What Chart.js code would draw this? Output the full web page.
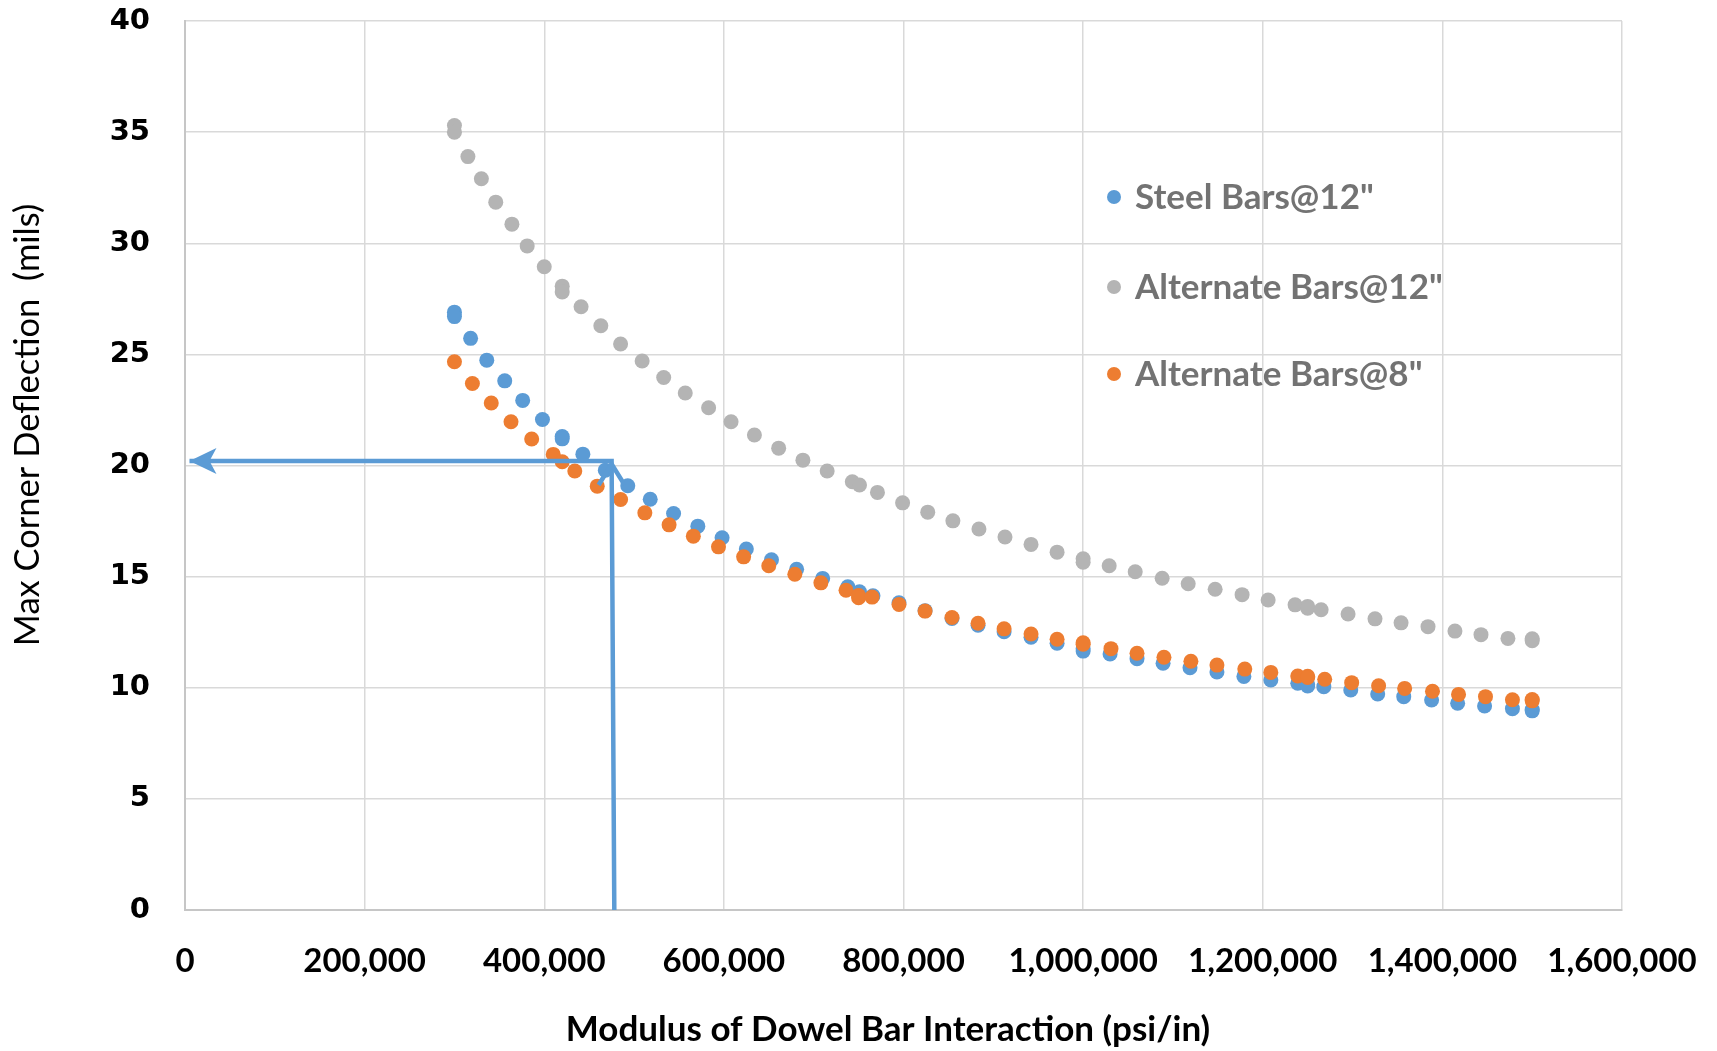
<!DOCTYPE html>
<html lang="en">
<head>
<meta charset="UTF-8">
<title>Max Corner Deflection vs Modulus of Dowel Bar Interaction</title>
<script src="https://cdn.jsdelivr.net/npm/chart.js"></script>
<style>
  html, body { margin: 0; padding: 0; background: #fff; }
</style>
</head>
<body>
<canvas id="deflection-chart" width="1717" height="1051"></canvas>
<script>
// values
const steelLabel = 'Steel Bars@12"';
const steelX = [300000, 300000, 318000, 336000, 356000, 376000, 398000, 420000, 420000, 443000, 468000, 493000, 518000, 544000, 571000, 598000, 625000, 653000, 681000, 710000, 738000, 751000, 766000, 795000, 824000, 854000, 883000, 912000, 942000, 971000, 1000000, 1000000, 1030000, 1060000, 1089000, 1119000, 1149000, 1179000, 1209000, 1239000, 1250000, 1250000, 1268000, 1298000, 1328000, 1357000, 1388000, 1417000, 1447000, 1478000, 1500000, 1500000];
const steelY = [26.9, 26.7, 25.72, 24.74, 23.81, 22.93, 22.07, 21.3, 21.2, 20.51, 19.79, 19.09, 18.48, 17.84, 17.27, 16.75, 16.24, 15.76, 15.33, 14.92, 14.54, 14.32, 14.14, 13.82, 13.47, 13.12, 12.81, 12.52, 12.27, 12.0, 11.75, 11.65, 11.52, 11.31, 11.1, 10.9, 10.71, 10.51, 10.35, 10.2, 10.15, 10.08, 10.05, 9.9, 9.72, 9.6, 9.45, 9.3, 9.18, 9.06, 9.02, 8.96];

const alt12Label = 'Alternate Bars@12"';
const alt12X = [300000, 300000, 315000, 330000, 346000, 364000, 381000, 400000, 420000, 420000, 441000, 463000, 485000, 509000, 533000, 557000, 583000, 608000, 634000, 661000, 688000, 715000, 743000, 751000, 771000, 799000, 827000, 855000, 884000, 913000, 942000, 971000, 1000000, 1000000, 1029000, 1058000, 1088000, 1117000, 1147000, 1177000, 1206000, 1236000, 1250000, 1250000, 1265000, 1295000, 1325000, 1354000, 1384000, 1414000, 1443000, 1473000, 1500000, 1500000];
const alt12Y = [35.3, 35.0, 33.9, 32.9, 31.85, 30.86, 29.88, 28.94, 28.07, 27.81, 27.14, 26.29, 25.47, 24.7, 23.96, 23.26, 22.6, 21.97, 21.37, 20.78, 20.24, 19.75, 19.27, 19.12, 18.79, 18.32, 17.9, 17.51, 17.14, 16.78, 16.45, 16.1, 15.8, 15.65, 15.49, 15.22, 14.93, 14.68, 14.43, 14.19, 13.95, 13.73, 13.66, 13.58, 13.51, 13.32, 13.1, 12.92, 12.75, 12.55, 12.39, 12.22, 12.2, 12.12];

const alt8Label = 'Alternate Bars@8"';
const alt8X = [300000, 320000, 341000, 363000, 386000, 410000, 420000, 434000, 459000, 485000, 512000, 539000, 566000, 594000, 622000, 650000, 679000, 708000, 736000, 750000, 750000, 765000, 795000, 824000, 854000, 883000, 912000, 942000, 971000, 1000000, 1000000, 1031000, 1060000, 1090000, 1120000, 1149000, 1180000, 1209000, 1239000, 1250000, 1250000, 1269000, 1299000, 1329000, 1358000, 1389000, 1418000, 1448000, 1478000, 1500000, 1500000];
const alt8Y = [24.67, 23.69, 22.81, 21.97, 21.19, 20.5, 20.17, 19.75, 19.07, 18.47, 17.87, 17.33, 16.82, 16.34, 15.89, 15.49, 15.11, 14.72, 14.39, 14.15, 14.05, 14.08, 13.75, 13.45, 13.16, 12.9, 12.65, 12.42, 12.18, 12.02, 11.96, 11.76, 11.55, 11.37, 11.19, 11.02, 10.84, 10.69, 10.53, 10.52, 10.46, 10.38, 10.23, 10.09, 9.97, 9.84, 9.7, 9.6, 9.46, 9.47, 9.41];

// reading guide: left arrow tip -> corner -> foot on the x axis
const guideX = [5000, 475000, 478000];
const guideY = [20.2, 20.2, 0];

const xTitle = 'Modulus of Dowel Bar Interaction (psi/in)';
const yTitle = 'Max Corner Deflection  (mils)';

const blue = '#5b9bd5';
const grey = '#b4b4b4';
const orange = '#ed7d31';

function toPoints(xs, ys) {
    return xs.map((x, i) => ({ x: x, y: ys[i] }));
}

// arrowheads, axis titles and legend drawn by hand so they sit where the original has them
const decorations = {
    id: 'decorations',
    afterDatasetsDraw(chart) {
        const ctx = chart.ctx;
        const xs = chart.scales.x;
        const ys = chart.scales.y;

        const tipX = xs.getPixelForValue(guideX[0]);
        const tipY = ys.getPixelForValue(guideY[0]);
        ctx.save();
        ctx.fillStyle = blue;
        ctx.beginPath();
        ctx.moveTo(tipX, tipY);
        ctx.lineTo(tipX + 27, tipY - 13);
        ctx.lineTo(tipX + 20, tipY);
        ctx.lineTo(tipX + 27, tipY + 13);
        ctx.closePath();
        ctx.fill();

        const cx = xs.getPixelForValue(guideX[1]);
        const cy = ys.getPixelForValue(guideY[1]);
        ctx.strokeStyle = blue;
        ctx.lineWidth = 4.5;
        ctx.lineCap = 'butt';
        ctx.beginPath();
        ctx.moveTo(cx - 13, cy + 24);
        ctx.lineTo(cx, cy + 3);
        ctx.lineTo(cx + 13, cy + 24);
        ctx.stroke();
        ctx.restore();
    },
    afterDraw(chart) {
        const ctx = chart.ctx;
        const area = chart.chartArea;
        ctx.save();
        ctx.fillStyle = '#000';
        ctx.textAlign = 'center';
        ctx.textBaseline = 'middle';

        ctx.font = 'bold 35px Lato';
        ctx.fillText(xTitle, area.left + 703, 1030);

        ctx.translate(28, 425);
        ctx.rotate(-Math.PI / 2);
        ctx.font = '34.5px Lato';
        ctx.fillText(yTitle, 0, 0);
        ctx.restore();

        // legend
        ctx.save();
        ctx.font = 'bold 35px Lato';
        ctx.textAlign = 'left';
        ctx.textBaseline = 'middle';
        const rows = [197, 287, 374];
        chart.data.datasets.slice(0, 3).forEach((ds, i) => {
            ctx.fillStyle = ds.backgroundColor;
            ctx.beginPath();
            ctx.arc(1114, rows[i], 7, 0, Math.PI * 2);
            ctx.fill();
            ctx.fillStyle = '#737373';
            ctx.fillText(ds.label, 1135, rows[i] + 1);
        });
        ctx.restore();
    }
};

const ctx = document.getElementById('deflection-chart').getContext('2d');
new Chart(ctx, {
    type: 'scatter',
    data: {
        datasets: [
            // first dataset is drawn last, so orange lands on top of blue
            { label: steelLabel, data: toPoints(steelX, steelY), backgroundColor: blue, order: 1 },
            { label: alt12Label, data: toPoints(alt12X, alt12Y), backgroundColor: grey, order: 2 },
            { label: alt8Label, data: toPoints(alt8X, alt8Y), backgroundColor: orange, order: 0 },
            {
                label: 'guide',
                data: toPoints(guideX, guideY),
                showLine: true,
                borderColor: blue,
                borderWidth: 4.5,
                pointRadius: 0,
                order: -1
            }
        ]
    },
    options: {
        responsive: false,
        animation: false,
        layout: { padding: { top: 21, right: 95, left: 0, bottom: 0 } },
        elements: {
            point: { radius: 7.5, borderWidth: 0, hoverRadius: 7.5 }
        },
        plugins: {
            legend: { display: false },
            tooltip: { enabled: false }
        },
        scales: {
            x: {
                type: 'linear',
                min: 0,
                max: 1600000,
                afterFit: (scale) => {
                    scale.height = 141;
                    scale.paddingLeft = 10;
                    scale.paddingRight = 80;
                },
                ticks: {
                    stepSize: 200000,
                    padding: 32,
                    color: '#000',
                    font: { family: 'Lato', weight: 'bold', size: 33 },
                    callback: (v) => v.toLocaleString('en-US')
                },
                grid: { color: '#d9d9d9', lineWidth: 1.5, drawTicks: false },
                border: { color: '#c6c6c6', width: 2 }
            },
            y: {
                min: 0,
                max: 40,
                afterFit: (scale) => {
                    scale.width = 185;
                    scale.paddingTop = 17;
                    scale.paddingBottom = 17;
                },
                ticks: {
                    stepSize: 5,
                    padding: 35,
                    color: '#000',
                    font: { family: 'DejaVu Sans', weight: 'bold', size: 29 }
                },
                grid: { color: '#d9d9d9', lineWidth: 1.5, drawTicks: false },
                border: { color: '#c6c6c6', width: 2 }
            }
        }
    },
    plugins: [decorations]
});
</script>
</body>
</html>
